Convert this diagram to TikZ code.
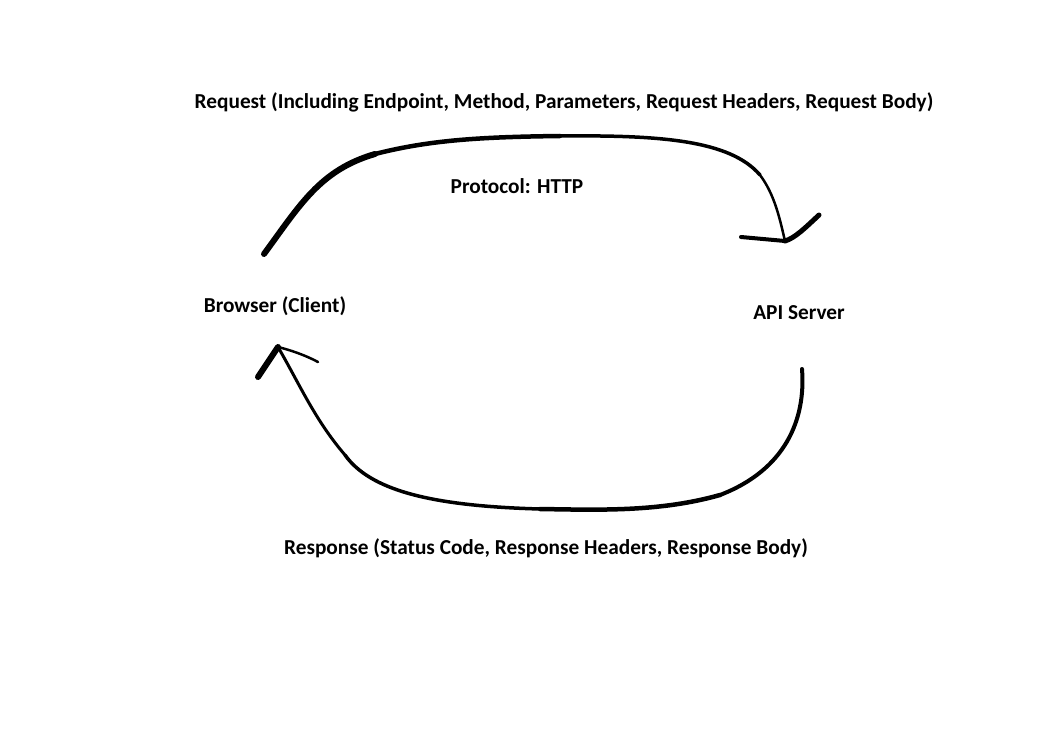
\documentclass[tikz,border=0pt]{standalone}
\usepackage{fontspec}
\setmainfont{Carlito}
\begin{document}
\begin{tikzpicture}[x=1pt,y=-1pt,
  lbl/.style={font=\bfseries\fontsize{21.3}{25}\selectfont, inner sep=0pt},
  stroke/.style={line width=#1, line cap=round, line join=round, black}]
\useasboundingbox (0,0) rectangle (1061,730);
\node[lbl] (req) at (564,102) {Request (Including Endpoint, Method, Parameters, Request Headers, Request Body)};
\node[lbl] (proto) at (517,186) {Protocol: HTTP};
\node[lbl] (client) at (275,306) {Browser (Client)};
\node[lbl] (server) at (799,313) {API Server};
\node[lbl] (resp) at (546,548) {Response (Status Code, Response Headers, Response Body)};
% request arc
\coordinate (rs) at (264,254);
\coordinate (re) at (785,241);
\draw[stroke=6pt] (rs) .. controls (300,205) and (320,170) .. (375,154);
\draw[stroke=4.5pt] (375,154) .. controls (430,140) and (480,137) .. (560,136);
\draw[stroke=3.5pt] (560,136) .. controls (660,135) and (730,140) .. (760,175);
\draw[stroke=2.5pt] (760,175) .. controls (775,195) and (780,220) .. (re);
\draw[stroke=4pt] (741,237) -- (re);
\draw[stroke=5pt] (re) .. controls (795,238) and (805,228) .. (819,215);
% response arc
\coordinate (ss) at (802,369);
\coordinate (se) at (278,347);
\draw[stroke=4pt] (ss) .. controls (806,420) and (785,470) .. (720,495);
\draw[stroke=4.5pt] (720,495) .. controls (660,512) and (600,510) .. (540,509);
\draw[stroke=3.5pt] (540,509) .. controls (430,506) and (370,490) .. (345,455);
\draw[stroke=3pt] (345,455) .. controls (315,420) and (300,385) .. (se);
\draw[stroke=6pt] (se) -- (258,377);
\draw[stroke=2.5pt] (se) .. controls (290,350) and (305,355) .. (318,362);
\end{tikzpicture}
\end{document}
